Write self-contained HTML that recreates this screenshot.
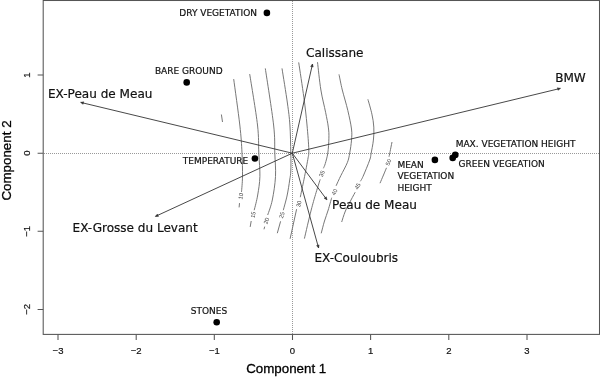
<!DOCTYPE html>
<html><head><meta charset="utf-8"><title>PCA biplot</title>
<style>
html,body{margin:0;padding:0;background:#fff;}
svg{display:block}
.lab{font-family:"DejaVu Sans","Liberation Sans",sans-serif;font-size:9px;fill:#111;stroke:#111;stroke-width:0.2}
.big{font-family:"DejaVu Sans","Liberation Sans",sans-serif;font-size:12.05px;fill:#111;stroke:#111;stroke-width:0.2}
.tick{font-family:"Liberation Sans",sans-serif;font-size:9.5px;fill:#111;text-anchor:middle;stroke:#111;stroke-width:0.2}
.axl{font-family:"Liberation Sans",sans-serif;font-size:13.35px;fill:#000;text-anchor:middle;stroke:#000;stroke-width:0.3}
.cl{font-family:"Liberation Sans",sans-serif;font-size:5.8px;fill:#3a3a3a;text-anchor:middle}
.ct{fill:none;stroke:#707070;stroke-width:0.95}
.ar{fill:none;stroke:#333;stroke-width:0.9}
.ah{fill:#333;stroke-width:0.5}
.fr{fill:none;stroke:#555;stroke-width:1.05}
</style></head><body>
<svg width="600" height="377" viewBox="0 0 600 377">
<rect width="600" height="377" fill="#fff"/>
<rect class="fr" x="43.2" y="0.5" width="556.3" height="333.9"/>
<g class="fr">
<path d="M58.0 334.4v5.6M136.2 334.4v5.6M214.3 334.4v5.6M292.5 334.4v5.6M370.6 334.4v5.6M448.8 334.4v5.6M527.0 334.4v5.6"/>
<path d="M43.2 309.4h-5.6M43.2 231.3h-5.6M43.2 153.2h-5.6M43.2 75.0h-5.6"/>
</g>
<path d="M44 153.5H599M292.5 1V334" fill="none" stroke="#999" stroke-width="1" stroke-dasharray="1 1"/>
<g class="tick">
<text x="58.0" y="353.8">−3</text><text x="136.2" y="353.8">−2</text><text x="214.3" y="353.8">−1</text><text x="292.5" y="353.8">0</text><text x="370.6" y="353.8">1</text><text x="448.8" y="353.8">2</text><text x="527.0" y="353.8">3</text>
<text transform="translate(30.2 309.4) rotate(-90)">−2</text><text transform="translate(30.2 231.3) rotate(-90)">−1</text><text transform="translate(30.2 153.2) rotate(-90)">0</text><text transform="translate(30.2 75.0) rotate(-90)">1</text>
</g>
<text class="axl" x="286.2" y="373.1">Component 1</text>
<text class="axl" transform="translate(11.4 160.5) rotate(-90)">Component 2</text>
<g class="ct">
<path d="M221.4 114.5L222.5 122.0"/>
<path d="M233.7 79.1C234.7 86.8 238.4 112.7 239.8 125.0C241.2 137.3 241.6 144.4 242.0 153.0C242.4 161.6 242.6 170.0 242.5 176.5C242.4 183.0 241.7 189.3 241.5 191.9"/>
<path d="M239.5 203.1L239.1 207.4"/>
<path d="M249.7 74.1C251.0 82.6 256.0 111.8 257.5 125.0C259.0 138.2 258.4 144.4 258.8 153.0C259.2 161.6 260.1 169.5 259.9 176.5C259.7 183.5 258.6 189.4 257.7 195.0C256.8 200.6 254.8 207.7 254.2 210.2"/>
<path d="M251.2 221.0L250.2 226.9"/>
<path d="M265.3 68.4C266.7 77.8 272.0 110.9 273.6 125.0C275.2 139.1 274.5 144.4 274.8 153.0C275.1 161.6 275.9 168.7 275.5 176.5C275.1 184.3 273.6 193.6 272.3 200.0C271.0 206.4 268.5 212.5 267.7 215.0"/>
<path d="M264.7 226.6L264.0 229.3"/>
<path d="M282.0 68.4C282.9 74.2 286.1 93.6 287.4 103.0C288.7 112.4 289.3 116.7 289.9 125.0C290.5 133.3 290.6 145.3 290.8 153.0C291.0 160.7 291.0 166.5 290.8 171.0C290.6 175.5 290.3 175.8 289.7 180.0C289.1 184.2 288.1 191.0 287.0 196.0C285.9 201.0 283.9 207.8 283.3 210.2"/>
<path d="M280.6 221.3L277.3 233.2"/>
<path d="M298.7 62.4C299.6 68.3 302.5 87.3 303.9 97.7C305.3 108.1 306.2 116.3 307.0 125.0C307.8 133.7 308.7 144.2 308.8 150.0C308.9 155.8 308.7 154.2 307.8 159.5C306.9 164.8 304.8 175.5 303.5 181.8C302.2 188.1 300.8 194.6 300.3 197.2"/>
<path d="M296.6 209.2L290.1 238.8"/>
<path d="M317.5 62.2C318.1 66.8 319.5 81.7 320.9 90.0C322.2 98.3 324.4 106.1 325.6 112.3C326.8 118.5 327.8 122.8 328.3 127.1C328.9 131.4 329.0 133.9 328.9 138.2C328.8 142.5 328.4 148.9 327.8 153.1C327.2 157.3 326.0 161.0 325.3 163.5C324.6 166.0 323.7 167.5 323.4 168.3"/>
<path d="M320.2 179.4C319.4 181.9 317.0 189.4 315.5 194.5C314.0 199.6 313.1 202.7 311.2 210.0C309.3 217.3 305.5 233.8 304.4 238.6"/>
<path d="M339.0 74.4C339.6 77.0 340.8 84.0 342.3 90.0C343.8 96.0 346.3 103.9 347.8 110.4C349.3 116.9 350.9 124.0 351.5 129.0C352.1 133.9 351.8 136.1 351.5 140.1C351.2 144.1 350.4 149.3 349.7 153.1C349.0 156.9 348.8 159.0 347.3 162.7C345.8 166.4 342.8 171.7 340.9 175.5C339.0 179.3 336.9 184.1 336.1 185.8"/>
<path d="M331.7 197.7C331.1 199.8 329.4 206.1 328.2 210.0C327.0 213.9 325.7 217.1 324.5 221.0C323.3 224.9 321.8 231.2 321.2 233.3"/>
<path d="M367.9 99.3C368.6 101.8 370.9 109.5 371.9 114.1C372.9 118.7 373.6 122.8 373.8 127.1C374.1 131.4 373.9 135.6 373.4 140.1C372.9 144.6 371.6 150.7 371.0 154.0C370.4 157.3 371.0 156.2 369.7 160.0C368.4 163.8 364.6 172.9 363.0 176.5C361.4 180.1 360.8 180.5 360.3 181.3"/>
<path d="M355.2 192.2C354.1 194.2 350.6 200.7 348.9 204.0C347.2 207.3 346.2 209.0 345.0 212.0C343.8 215.0 342.2 220.3 341.7 222.0"/>
<path d="M392.0 142.0C391.6 144.0 390.1 151.5 389.6 154.0C389.1 156.5 389.1 156.3 389.0 156.8"/>
<path d="M386.5 167.8C386.0 169.0 384.6 172.4 383.5 175.0C382.4 177.6 380.6 181.8 380.0 183.2"/>
</g>
<g class="cl">
<text transform="translate(242.7 196.6) rotate(-80)">10</text>
<text transform="translate(255.1 215.2) rotate(-78)">15</text>
<text transform="translate(268.3 221.4) rotate(-72)">20</text>
<text transform="translate(283.7 215.8) rotate(-72)">25</text>
<text transform="translate(300.8 204.4) rotate(-75)">30</text>
<text transform="translate(323.7 174.6) rotate(-68)">35</text>
<text transform="translate(336.2 193) rotate(-62)">40</text>
<text transform="translate(359.3 187.2) rotate(-60)">45</text>
<text transform="translate(390.2 163) rotate(-66)">50</text>
</g>
<g class="ar">
<path d="M292.3 153.2L560.4 88.4"/><path class="ah" d="M557.4 87.8L560.4 88.4L558.0 90.3Z"/>
<path d="M292.3 153.2L312.5 64"/><path class="ah" d="M310.6 66.5L312.5 64L313.2 67.0Z"/>
<path d="M292.3 153.2L80.7 102.4"/><path class="ah" d="M83.1 104.3L80.7 102.4L83.7 101.8Z"/>
<path d="M292.3 153.2L155.4 216.4"/><path class="ah" d="M158.5 216.4L155.4 216.4L157.4 214.0Z"/>
<path d="M292.3 153.2L326.9 199.8"/><path class="ah" d="M326.3 196.8L326.9 199.8L324.2 198.3Z"/>
<path d="M292.3 153.2L318.6 248"/><path class="ah" d="M319.1 244.9L318.6 248L316.6 245.6Z"/>
</g>
<g fill="#000">
<circle cx="266.9" cy="12.9" r="3.3"/><circle cx="186.7" cy="82.4" r="3.3"/><circle cx="254.9" cy="158.5" r="3.3"/><circle cx="216.7" cy="322.2" r="3.3"/><circle cx="434.9" cy="159.9" r="3.3"/><circle cx="455.3" cy="154.9" r="3.3"/><circle cx="452.7" cy="157.9" r="3.3"/>
</g>
<g class="lab">
<text x="179.3" y="16">DRY VEGETATION</text>
<text x="154.9" y="74.3">BARE GROUND</text>
<text x="182.8" y="163.5">TEMPERATURE</text>
<text x="190.8" y="313.8">STONES</text>
<text x="455.7" y="147.0">MAX. VEGETATION HEIGHT</text>
<text x="458.6" y="166.9">GREEN VEGEATION</text>
<text x="397.4" y="167.8">MEAN</text>
<text x="397.4" y="179.3">VEGETATION</text>
<text x="397.4" y="190.7">HEIGHT</text>
</g>
<g class="big">
<text x="48.0" y="97.7">EX-Peau de Meau</text>
<text x="72.6" y="231.7">EX-Grosse du Levant</text>
<text x="306.0" y="56.7">Calissane</text>
<text x="555.2" y="81.6">BMW</text>
<text x="332.1" y="208.5">Peau de Meau</text>
<text x="314.5" y="261.8">EX-Couloubris</text>
</g>
</svg>
</body></html>
